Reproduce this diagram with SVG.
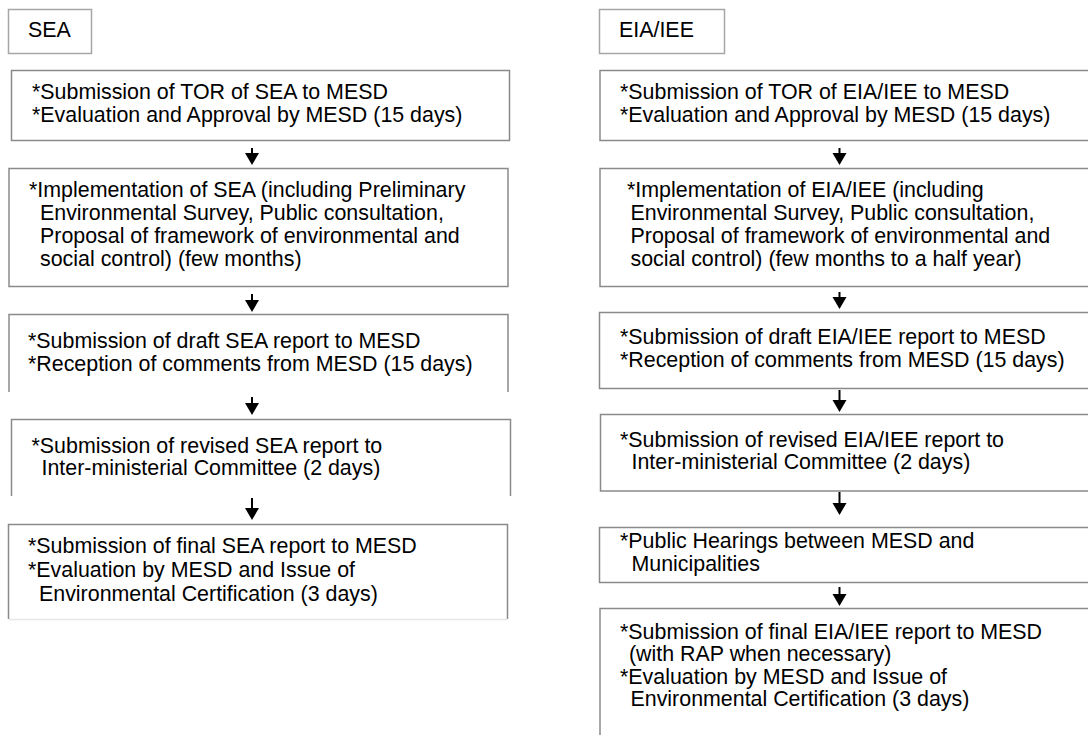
<svg xmlns="http://www.w3.org/2000/svg" width="1088" height="735" viewBox="0 0 1088 735">
<defs>
<style>
.box{fill:#fff;stroke:#8a8a8a;stroke-width:1.5}
.lbl{fill:#fff;stroke:#a6a6a6;stroke-width:1.5}
.open{fill:none;stroke:#8a8a8a;stroke-width:1.5}
.faint{fill:none;stroke:#e6e6e6;stroke-width:1.5}
text{font-family:"Liberation Sans",Arial,sans-serif;font-size:21.4px;fill:#000}
.arr{stroke:#000;stroke-width:2;fill:none;marker-end:url(#ah)}
</style>
<marker id="ah" markerUnits="userSpaceOnUse" markerWidth="14" markerHeight="16" refX="1" refY="7" orient="auto">
<path d="M0,0 L12,7 L0,14 z" fill="#000"/>
</marker>
</defs>
<rect width="1088" height="735" fill="#fff"/>

<g id="sea-label">
<rect class="lbl" x="8.5" y="9.5" width="83" height="44"/>
<text x="28" y="37">SEA</text>
</g>
<g id="sea-1">
<rect class="box" x="11.5" y="70.5" width="498" height="70"/>
<text x="32" y="99">*Submission of TOR of SEA to MESD</text>
<text x="32" y="122">*Evaluation and Approval by MESD (15 days)</text>
</g>
<g id="sea-2">
<rect class="box" x="9" y="168.5" width="499" height="118"/>
<text x="29" y="197">*Implementation of SEA (including Preliminary</text>
<text x="40" y="220">Environmental Survey, Public consultation,</text>
<text x="40" y="243">Proposal of framework of environmental and</text>
<text x="40" y="265.5">social control) (few months)</text>
</g>
<g id="sea-3">
<rect x="9" y="314" width="499" height="78" fill="#fff"/>
<path class="open" d="M9,392 V314.5 H508 V392"/>
<text x="28" y="348">*Submission of draft SEA report to MESD</text>
<text x="28" y="371">*Reception of comments from MESD (15 days)</text>
</g>
<g id="sea-4">
<rect x="11.5" y="419" width="499" height="77" fill="#fff"/>
<path class="open" d="M11.5,496 V419.5 H510.5 V496"/>
<text x="31.5" y="452.5">*Submission of revised SEA report to</text>
<text x="41.5" y="474.5">Inter-ministerial Committee (2 days)</text>
</g>
<g id="sea-5">
<rect x="8.5" y="524" width="499" height="95" fill="#fff"/>
<path class="open" d="M8.5,619 V524.5 H507.5 V619"/>
<path class="faint" d="M9,619.5 H507"/>
<text x="28" y="553">*Submission of final SEA report to MESD</text>
<text x="28" y="577">*Evaluation by MESD and Issue of</text>
<text x="39" y="600.5">Environmental Certification (3 days)</text>
</g>

<g id="eia-label">
<rect class="lbl" x="599.5" y="9.5" width="125" height="44"/>
<text x="619" y="37">EIA/IEE</text>
</g>
<g id="eia-1">
<rect class="box" x="600" y="70.5" width="500" height="70"/>
<text x="620" y="99">*Submission of TOR of EIA/IEE to MESD</text>
<text x="620" y="122">*Evaluation and Approval by MESD (15 days)</text>
</g>
<g id="eia-2">
<rect class="box" x="600" y="168.5" width="500" height="118"/>
<text x="627" y="197">*Implementation of EIA/IEE (including</text>
<text x="630.5" y="220">Environmental Survey, Public consultation,</text>
<text x="630.5" y="243">Proposal of framework of environmental and</text>
<text x="630.5" y="265.5">social control) (few months to a half year)</text>
</g>
<g id="eia-3">
<rect class="box" x="599.5" y="312.5" width="500" height="76"/>
<text x="620" y="344">*Submission of draft EIA/IEE report to MESD</text>
<text x="620" y="367">*Reception of comments from MESD (15 days)</text>
</g>
<g id="eia-4">
<rect class="box" x="600.5" y="414.5" width="500" height="76.5"/>
<text x="620" y="446.5">*Submission of revised EIA/IEE report to</text>
<text x="631.5" y="469">Inter-ministerial Committee (2 days)</text>
</g>
<g id="eia-5">
<rect class="box" x="599.5" y="527.5" width="500" height="55"/>
<text x="620" y="547.5">*Public Hearings between MESD and</text>
<text x="631.5" y="570.5">Municipalities</text>
</g>
<g id="eia-6">
<rect class="box" x="600" y="608.5" width="500" height="140"/>
<text x="620" y="638.5">*Submission of final EIA/IEE report to MESD</text>
<text x="629" y="661">(with RAP when necessary)</text>
<text x="620" y="683.5">*Evaluation by MESD and Issue of</text>
<text x="630.5" y="706">Environmental Certification (3 days)</text>
</g>

<g id="connectors">
<line class="arr" x1="252" y1="148" x2="252" y2="154"/>
<line class="arr" x1="252" y1="294" x2="252" y2="301"/>
<line class="arr" x1="252" y1="397" x2="252" y2="404"/>
<line class="arr" x1="252" y1="498" x2="252" y2="509"/>
<line class="arr" x1="839.5" y1="148" x2="839.5" y2="154"/>
<line class="arr" x1="839.5" y1="292" x2="839.5" y2="298"/>
<line class="arr" x1="839.5" y1="390" x2="839.5" y2="401"/>
<line class="arr" x1="839.5" y1="492" x2="839.5" y2="504"/>
<line class="arr" x1="839.5" y1="587" x2="839.5" y2="595"/>
</g>
</svg>
